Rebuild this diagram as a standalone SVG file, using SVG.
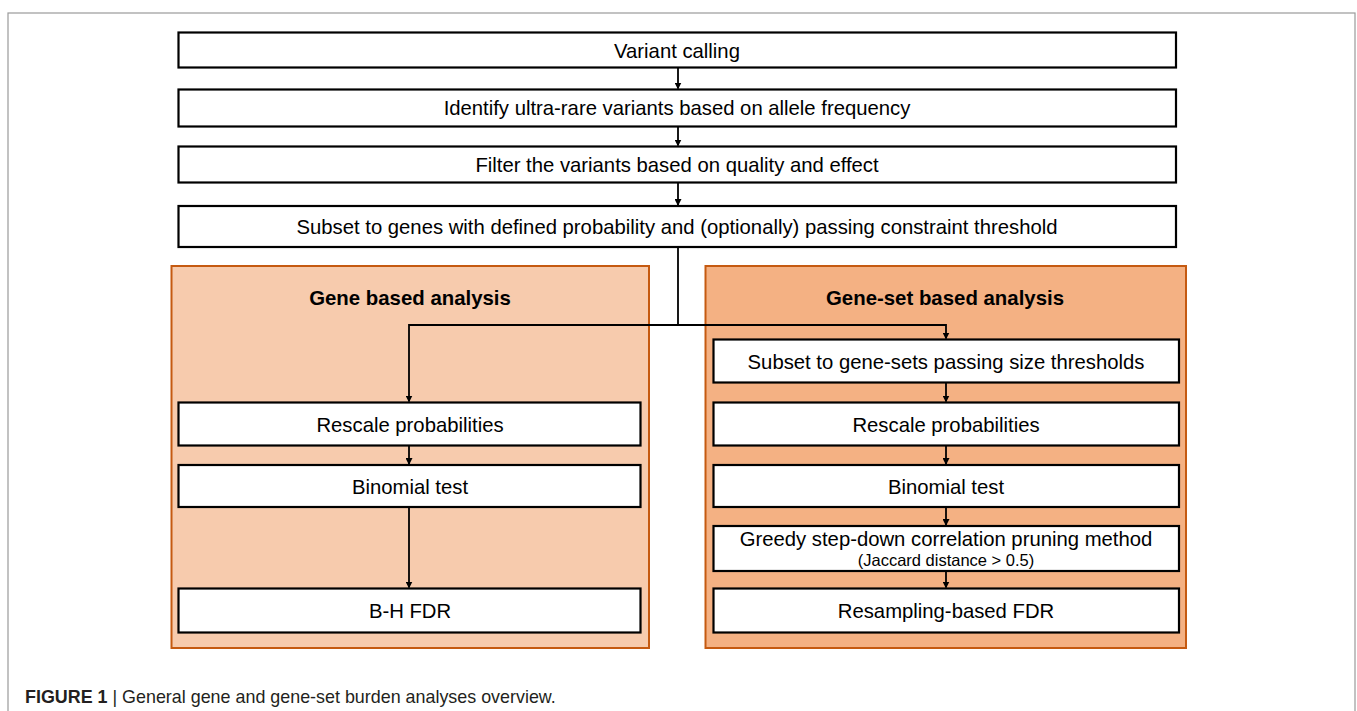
<svg xmlns="http://www.w3.org/2000/svg" width="1357" height="711" viewBox="0 0 1357 711">
<style>
.box{fill:#fff;stroke:#000;stroke-width:2.2}
.t{font-family:"Liberation Sans",Arial,sans-serif;font-size:20.3px;fill:#000;text-anchor:middle}
.ts{font-family:"Liberation Sans",Arial,sans-serif;font-size:16.5px;fill:#000;text-anchor:middle}
.h{font-family:"Liberation Sans",Arial,sans-serif;font-size:20.4px;font-weight:bold;fill:#000;text-anchor:middle}
.panel{stroke:#C55A11;stroke-width:2}
.c{fill:none;stroke:#000;stroke-width:1.8}
.cap{font-family:"Liberation Sans",Arial,sans-serif;font-size:17.9px;fill:#231f20}
</style>
<defs>
<marker id="ah" markerWidth="7" markerHeight="7" refX="6" refY="3.5" orient="auto" markerUnits="userSpaceOnUse">
<path d="M0,0 L7,3.5 L0,7 Z" fill="#000"/>
</marker>
</defs>
<rect x="0" y="0" width="1357" height="711" fill="#fff"/>
<rect x="8" y="13" width="1347" height="710" fill="none" stroke="#9a9a9a" stroke-width="1.2"/>

<g id="panel-gene">
<rect class="panel" x="171.5" y="266" width="477.5" height="382" fill="#F7CBAD"/>
<text class="h" x="410" y="305">Gene based analysis</text>
</g>
<g id="panel-geneset">
<rect class="panel" x="705.5" y="266" width="480.5" height="382" fill="#F4B183"/>
<text class="h" x="945" y="305">Gene-set based analysis</text>
</g>

<g id="n1"><rect class="box" x="178.5" y="32.5" width="997.5" height="35"/><text class="t" x="677" y="57.5">Variant calling</text></g>
<g id="n2"><rect class="box" x="178.5" y="89.5" width="997.5" height="37"/><text class="t" x="677" y="115">Identify ultra-rare variants based on allele frequency</text></g>
<g id="n3"><rect class="box" x="178.5" y="146.5" width="997.5" height="36"/><text class="t" x="677" y="172">Filter the variants based on quality and effect</text></g>
<g id="n4"><rect class="box" x="178.5" y="206" width="997.5" height="41"/><text class="t" x="677" y="234">Subset to genes with defined probability and (optionally) passing constraint threshold</text></g>

<g id="g1"><rect class="box" x="178.5" y="402.5" width="462" height="43"/><text class="t" x="410" y="432">Rescale probabilities</text></g>
<g id="g2"><rect class="box" x="178.5" y="465" width="462" height="42"/><text class="t" x="410" y="494">Binomial test</text></g>
<g id="g3"><rect class="box" x="178.5" y="588.5" width="462" height="44"/><text class="t" x="410" y="618">B-H FDR</text></g>

<g id="s1"><rect class="box" x="713.5" y="339.5" width="465.5" height="43"/><text class="t" x="946" y="369">Subset to gene-sets passing size thresholds</text></g>
<g id="s2"><rect class="box" x="713.5" y="402.5" width="465.5" height="43"/><text class="t" x="946" y="432">Rescale probabilities</text></g>
<g id="s3"><rect class="box" x="713.5" y="465" width="465.5" height="42"/><text class="t" x="946" y="494">Binomial test</text></g>
<g id="s4"><rect class="box" x="713.5" y="526" width="465.5" height="45"/><text class="t" x="946" y="546">Greedy step-down correlation pruning method</text><text class="ts" x="946" y="566">(Jaccard distance &gt; 0.5)</text></g>
<g id="s5"><rect class="box" x="713.5" y="588.5" width="465.5" height="44"/><text class="t" x="946" y="618">Resampling-based FDR</text></g>

<g id="connectors">
<path class="c" d="M678,67.5 V88.5" marker-end="url(#ah)"/>
<path class="c" d="M678,126.5 V145.5" marker-end="url(#ah)"/>
<path class="c" d="M678,182.5 V205" marker-end="url(#ah)"/>
<path class="c" d="M678,247 V325 H409 V401.5" marker-end="url(#ah)"/>
<path class="c" d="M678,325 H946 V338.5" marker-end="url(#ah)"/>
<path class="c" d="M409,445.5 V464" marker-end="url(#ah)"/>
<path class="c" d="M409,507 V587.5" marker-end="url(#ah)"/>
<path class="c" d="M946,382.5 V401.5" marker-end="url(#ah)"/>
<path class="c" d="M946,445.5 V464" marker-end="url(#ah)"/>
<path class="c" d="M946,507 V525" marker-end="url(#ah)"/>
<path class="c" d="M946,571 V587.5" marker-end="url(#ah)"/>
</g>

<text class="cap" x="25" y="703"><tspan font-weight="bold">FIGURE 1</tspan> | General gene and gene-set burden analyses overview.</text>
</svg>
